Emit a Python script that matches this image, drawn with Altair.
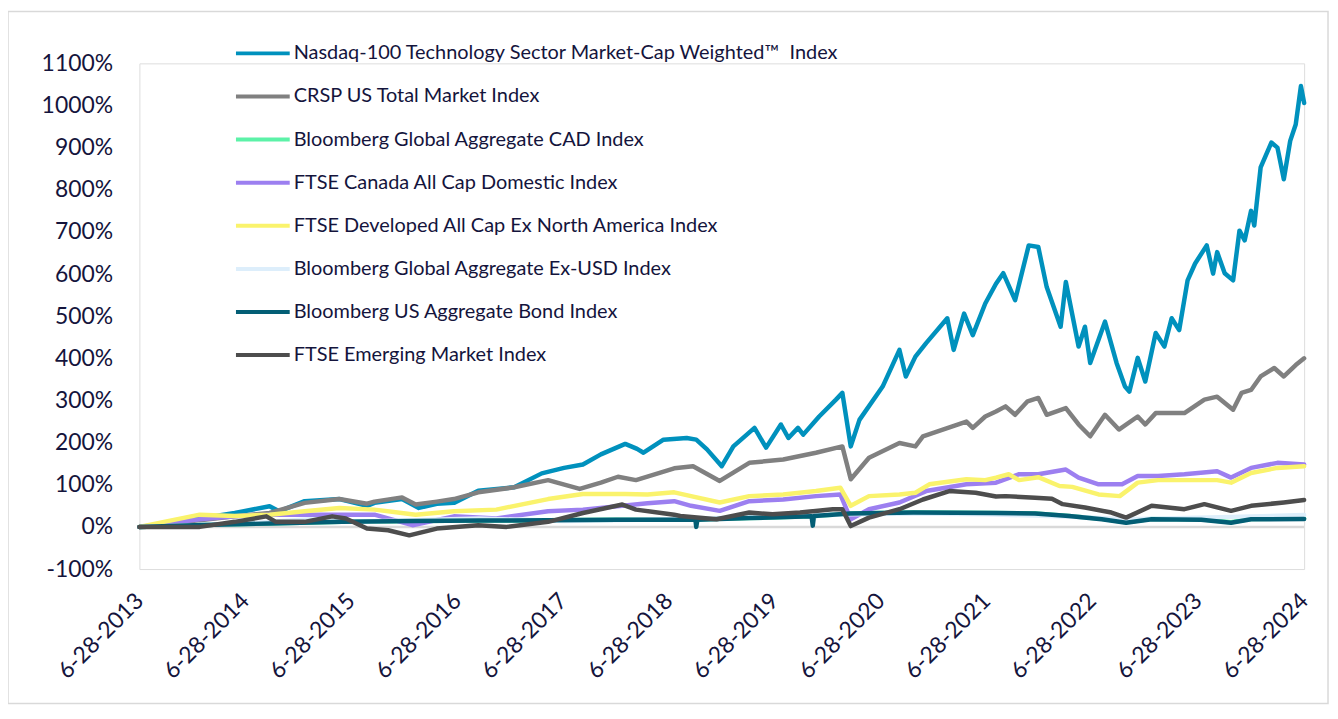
import altair as alt
import pandas as pd

NBSP = "\u00a0"
SERIES = [
    "Nasdaq-100 Technology Sector Market-Cap Weighted\u2122" + NBSP + " Index",
    "CRSP US Total Market Index",
    "Bloomberg Global Aggregate CAD Index",
    "FTSE Canada All Cap Domestic Index",
    "FTSE Developed All Cap Ex North America Index",
    NBSP + "Bloomberg Global Aggregate Ex-USD Index",
    NBSP + "Bloomberg US Aggregate Bond Index",
    NBSP + NBSP + "FTSE Emerging Market Index",
]
COLORS = ["#0091BD", "#808080", "#5CF2A8", "#9C7FF0", "#FAF36C",
          "#DDEEFB", "#035E75", "#4D4D4D"]

# decimal year / cumulative return (%)
NDX_T = [2013.49, 2013.73, 2014.06, 2014.39, 2014.72, 2014.81, 2015.05, 2015.38, 2015.64, 2015.71,
         2015.97, 2016.13, 2016.30, 2016.46, 2016.69, 2017.03, 2017.29, 2017.50, 2017.68, 2017.85,
         2018.08, 2018.19, 2018.25, 2018.44, 2018.66, 2018.75, 2018.85, 2018.99, 2019.10, 2019.30,
         2019.41, 2019.55, 2019.62, 2019.71, 2019.76, 2019.91, 2020.07, 2020.13, 2020.21, 2020.29,
         2020.51, 2020.67, 2020.73, 2020.82, 2020.92, 2021.12, 2021.18, 2021.28, 2021.36, 2021.48,
         2021.58, 2021.65, 2021.76, 2021.89, 2021.98, 2022.06, 2022.19, 2022.24, 2022.36, 2022.42,
         2022.47, 2022.61, 2022.72, 2022.80, 2022.84, 2022.92, 2022.99, 2023.09, 2023.17, 2023.24,
         2023.31, 2023.39, 2023.46, 2023.57, 2023.63, 2023.67, 2023.74, 2023.82, 2023.88, 2023.93,
         2023.99, 2024.02, 2024.08, 2024.18, 2024.24, 2024.30, 2024.36, 2024.41, 2024.46, 2024.49]
NDX_V = [0, 6, 20, 33, 49, 37, 61, 66, 50, 57,
         66, 45, 55, 57, 86, 94, 127, 140, 148, 172,
         197, 185, 176, 207, 211, 207, 184, 144, 191, 235,
         188, 243, 211, 235, 219, 262, 302, 318, 191, 254,
         333, 420, 357, 404, 436, 495, 420, 506, 455, 530,
         577, 602, 538, 668, 664, 569, 475, 581, 428, 475,
         389, 487, 389, 333, 321, 401, 345, 460, 428, 495,
         467, 585, 625, 668, 601, 652, 602, 585, 703, 680,
         750, 715, 853, 912, 900, 825, 916, 955, 1046, 1006]

CRSP_T = [2013.49, 2013.73, 2014.06, 2014.39, 2014.72, 2015.05, 2015.38, 2015.64, 2015.71, 2015.97,
          2016.10, 2016.30, 2016.46, 2016.69, 2017.03, 2017.35, 2017.65, 2017.85, 2018.01, 2018.18,
          2018.54, 2018.72, 2018.97, 2019.25, 2019.57, 2019.88, 2020.13, 2020.21, 2020.38, 2020.67,
          2020.82, 2020.89, 2021.30, 2021.36, 2021.48, 2021.58, 2021.67, 2021.76, 2021.88, 2021.98,
          2022.06, 2022.24, 2022.36, 2022.47, 2022.61, 2022.74, 2022.92, 2022.99, 2023.09, 2023.36,
          2023.55, 2023.67, 2023.82, 2023.90, 2023.99, 2024.08, 2024.21, 2024.30, 2024.41, 2024.49]
CRSP_V = [0, 5, 16, 25, 33, 57, 66, 55, 60, 70,
          53, 60, 66, 82, 94, 111, 90, 105, 119, 111,
          139, 144, 109, 152, 160, 176, 191, 113, 164, 199,
          191, 215, 250, 235, 262, 274, 286, 266, 298, 306,
          266, 282, 243, 215, 266, 231, 262, 243, 270, 270,
          302, 309, 278, 318, 325, 357, 377, 357, 384, 400]

CAD_T = [2013.49, 2014.00, 2014.72, 2015.40, 2016.10, 2016.70, 2017.35, 2018.00, 2018.60, 2019.25,
         2019.84, 2020.20, 2020.80, 2021.58, 2021.95, 2022.27, 2022.58, 2022.81, 2023.05, 2023.52,
         2023.80, 2023.99, 2024.49]
CAD_V = [0, 4, 8, 12, 14, 15, 16, 17, 17, 21,
         25, 32, 34, 33, 32, 26, 19, 11, 19, 18,
         11, 19, 20]

CAN_T = [2013.49, 2014.06, 2014.39, 2014.72, 2015.05, 2015.38, 2015.71, 2016.07, 2016.46, 2016.86,
         2017.35, 2017.68, 2018.29, 2018.54, 2018.70, 2018.97, 2019.25, 2019.57, 2019.88, 2020.11,
         2020.21, 2020.38, 2020.67, 2020.92, 2021.30, 2021.58, 2021.80, 2021.98, 2022.24, 2022.36,
         2022.55, 2022.77, 2022.92, 2023.11, 2023.36, 2023.67, 2023.80, 2023.99, 2024.24, 2024.49]
CAN_V = [0, 18, 25, 29, 29, 29, 29, 4, 25, 20,
         37, 41, 56, 61, 50, 38, 61, 65, 73, 77,
         18, 42, 58, 85, 101, 105, 125, 125, 136, 117,
         101, 101, 121, 121, 125, 132, 117, 140, 152, 148]

DEV_T = [2013.49, 2014.06, 2014.39, 2014.72, 2015.05, 2015.38, 2015.71, 2016.10, 2016.46, 2016.86,
         2017.35, 2017.68, 2018.08, 2018.29, 2018.54, 2018.70, 2018.97, 2019.25, 2019.57, 2019.88,
         2020.11, 2020.21, 2020.38, 2020.67, 2020.82, 2020.95, 2021.30, 2021.48, 2021.58, 2021.70,
         2021.80, 2021.98, 2022.18, 2022.30, 2022.55, 2022.75, 2022.92, 2023.11, 2023.36, 2023.67,
         2023.80, 2023.99, 2024.24, 2024.49]
DEV_V = [0, 29, 26, 29, 37, 45, 41, 29, 37, 41,
         66, 78, 78, 77, 82, 73, 58, 73, 77, 85,
         93, 50, 73, 77, 81, 101, 113, 111, 117, 125,
         111, 118, 97, 95, 77, 73, 105, 111, 111, 111,
         105, 128, 140, 144]

EXUSD_T = [2013.49, 2014.50, 2015.10, 2015.50, 2016.00, 2016.70, 2017.50, 2018.50, 2019.50, 2020.20,
           2020.80, 2021.50, 2022.30, 2022.80, 2023.50, 2024.49]
EXUSD_V = [0, 8, 18, 12, 15, 20, 14, 18, 24, 30, 32, 30, 24, 18, 22, 28]

AGG_T = [2013.49, 2014.00, 2014.72, 2015.40, 2016.10, 2016.70, 2017.35, 2018.00, 2018.60, 2018.74,
         2018.75, 2018.76, 2019.25, 2019.84, 2019.85, 2019.86, 2020.20, 2020.80, 2021.58, 2021.95,
         2022.27, 2022.58, 2022.81, 2023.05, 2023.52, 2023.80, 2023.99, 2024.49]
AGG_V = [0, 4, 8, 12, 14, 15, 16, 17, 17, 17,
         0, 17, 21, 25, 3, 26, 32, 34, 33, 32,
         26, 18, 10, 18, 17, 10, 18, 19]

EM_T = [2013.49, 2013.73, 2014.06, 2014.39, 2014.69, 2014.78, 2015.05, 2015.31, 2015.44, 2015.64,
        2015.84, 2016.04, 2016.30, 2016.69, 2016.96, 2017.35, 2017.68, 2018.05, 2018.18, 2018.54,
        2018.60, 2018.94, 2019.25, 2019.47, 2019.73, 2020.04, 2020.13, 2020.21, 2020.38, 2020.67,
        2020.89, 2021.14, 2021.39, 2021.58, 2021.67, 2021.95, 2022.11, 2022.21, 2022.42, 2022.67,
        2022.81, 2023.05, 2023.36, 2023.55, 2023.80, 2023.99, 2024.30, 2024.49]
EM_V = [0, 0, 0, 12, 25, 12, 12, 25, 20, -4,
        -8, -20, -4, 4, 0, 12, 33, 53, 41, 29,
        26, 18, 34, 30, 34, 42, 42, 2, 22, 42,
        65, 85, 81, 72, 73, 69, 67, 54, 46, 34,
        22, 50, 42, 54, 38, 50, 58, 64]

SERIES_DATA = [(NDX_T, NDX_V), (CRSP_T, CRSP_V), (CAD_T, CAD_V), (CAN_T, CAN_V),
               (DEV_T, DEV_V), (EXUSD_T, EXUSD_V), (AGG_T, AGG_V), (EM_T, EM_V)]

YEARS = list(range(2013, 2025))
Y_TICKS = list(range(-100, 1101, 100))


def to_date(t):
    base = pd.Timestamp("2013-06-28")
    days = round((t - 2013.49) * 365.25)
    return (base + pd.Timedelta(days=days)).strftime("%Y-%m-%dT00:00:00")


rows = []
for name, (ts, vs) in zip(SERIES, SERIES_DATA):
    for t, v in zip(ts, vs):
        rows.append({"series": name, "date": to_date(t), "value": v})
df = pd.DataFrame(rows)

FONT = "Lato"
TXT = "#14143C"

color_scale = alt.Scale(domain=SERIES, range=COLORS)
legend = alt.Legend(
    orient="none", legendX=95, legendY=-39, title=None, direction="vertical",
    symbolType="stroke", symbolStrokeWidth=4, symbolSize=2916,
    labelFont=FONT, labelFontSize=20, labelColor=TXT, labelOffset=2,
    labelLimit=0, rowPadding=4.3, padding=0,
)

x_enc = alt.X(
    "date:T",
    scale=alt.Scale(domain=[alt.DateTime(year=2013, month=6, date=28),
                            alt.DateTime(year=2024, month=6, date=28)]),
    axis=alt.Axis(
        values=[alt.DateTime(year=y, month=6, date=28) for y in YEARS],
        format="%-m-%-d-%Y", labelAngle=-45, labelAlign="right", labelBaseline="middle",
        labelFont=FONT, labelFontSize=23, labelColor=TXT, labelPadding=28,
        ticks=False, domain=False, grid=False, title=None,
        labelOverlap=False, labelFlush=False, labelBound=False,
    ),
)
y_enc = alt.Y(
    "value:Q",
    scale=alt.Scale(domain=[-100, 1100], nice=False),
    axis=alt.Axis(
        values=Y_TICKS, labelExpr="datum.value + '%'",
        labelFont=FONT, labelFontSize=23, labelColor=TXT, labelPadding=27,
        ticks=False, domain=False, grid=False, title=None,
    ),
)

frame = alt.Chart(pd.DataFrame({"k": [0]})).mark_rect(
    fillOpacity=0, stroke="#D9D9D9", strokeWidth=1.5
).encode(x=alt.value(-132), x2=alt.value(1194), y=alt.value(-52), y2=alt.value(643))

zero = alt.Chart(pd.DataFrame({"k": [0]})).mark_rule(
    color="#D9D9D9", strokeWidth=2.5
).encode(y=alt.datum(0))

layers = [frame, zero]
for name in SERIES:
    layers.append(
        alt.Chart(df).transform_filter(alt.datum.series == name)
        .mark_line(strokeWidth=4.5, strokeJoin="round", strokeCap="round")
        .encode(x=x_enc, y=y_enc,
                color=alt.Color("series:N", scale=color_scale, legend=legend))
    )

chart = alt.layer(*layers).properties(
    width=1170, height=508,
    autosize=alt.AutoSizeParams(type="none"),
    padding={"left": 132, "top": 54, "right": 26, "bottom": 136},
).configure_view(stroke=None).configure(background="white")

chart.save("out.html", embed_options={"renderer": "svg", "actions": False})
